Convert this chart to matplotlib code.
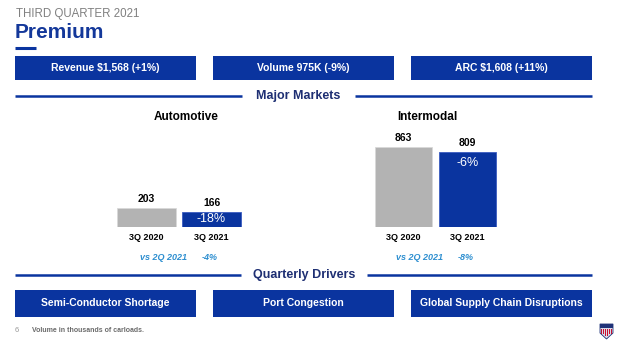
import matplotlib
matplotlib.use("Agg")
import matplotlib.pyplot as plt
from matplotlib.patches import Rectangle, Polygon

plt.rcParams["font.family"] = ["Liberation Sans", "DejaVu Sans"]

UP_BLUE = "#0A349F"
NAVY = "#1E2F73"
GREY_BAR = "#B3B3B3"
VS_BLUE = "#2E8FD0"

W, H = 619, 342

# ── data ───────────────────────────────────────────────────────────────────
quarters = ["3Q 2020", "3Q 2021"]
auto_volume = [203, 166]
auto_change = "-18%"
auto_vs_prev = "-4%"
inter_volume = [863, 809]
inter_change = "-6%"
inter_vs_prev = "-8%"

kpi_labels = ["Revenue $1,568 (+1%)", "Volume 975K (-9%)", "ARC $1,608 (+11%)"]
driver_labels = ["Semi-Conductor Shortage", "Port Congestion",
                 "Global Supply Chain Disruptions"]

fig = plt.figure(figsize=(W / 100, H / 100), dpi=100)
bg = fig.add_axes([0, 0, 1, 1])
bg.set_xlim(0, W)
bg.set_ylim(H, 0)
bg.axis("off")

# header
bg.text(16, 17, "THIRD QUARTER 2021", fontsize=8.3, color="#808080", va="baseline")
bg.text(15, 38, "Premium", fontsize=15, fontweight="bold", color="#14389A", va="baseline")
bg.plot([15, 36], [48, 48], color=UP_BLUE, lw=2.2, solid_capstyle="butt")

box_x = [(15, 196), (213, 394), (411, 592)]


def box_row(labels, y0, y1):
    for (x0, x1), lab in zip(box_x, labels):
        bg.add_patch(Rectangle((x0, y0), x1 - x0, y1 - y0, color=UP_BLUE, lw=0))
        bg.text((x0 + x1) / 2, (y0 + y1) / 2, lab, ha="center", va="center",
                fontsize=7.5, fontweight="bold", color="white")


def section(title, y, gap_l, gap_r):
    bg.plot([15, gap_l], [y, y], color=UP_BLUE, lw=1.8, solid_capstyle="butt")
    bg.plot([gap_r, 592], [y, y], color=UP_BLUE, lw=1.8, solid_capstyle="butt")
    bg.text((gap_l + gap_r) / 2, y, title, ha="center", va="center",
            fontsize=9, fontweight="bold", color=NAVY)


box_row(kpi_labels, 56, 80)
section("Major Markets", 96, 242, 355)
section("Quarterly Drivers", 275, 241, 367)
box_row(driver_labels, 290, 317)

# ── bar panels ─────────────────────────────────────────────────────────────
BASE = 227
PX_PER_UNIT = 0.0925


def panel(left_px, width_px, title, title_x, vals, pct, vs_x, vs_val):
    ax = fig.add_axes([left_px / W, (H - BASE) / H, width_px / W, 1000 * PX_PER_UNIT / H])
    ax.set_xlim(-0.5, 1.5)
    ax.set_ylim(0, 1000)
    bars = ax.bar([0, 1], vals, width=0.9, color=[GREY_BAR, UP_BLUE],
                  edgecolor=["#d9d9d9", "#3a5cc0"], linewidth=0.6)
    for b, v in zip(bars, vals):
        ax.annotate(f"{v}", (b.get_x() + b.get_width() / 2, v), xytext=(0, 6.5),
                    textcoords="offset points", ha="center", va="center",
                    fontsize=7.5, fontweight="bold", color="black")
    b = bars[1]
    if vals[1] * PX_PER_UNIT > 30:
        ax.annotate(pct, (b.get_x() + b.get_width() / 2, vals[1]), xytext=(0, -8),
                    textcoords="offset points", ha="center", va="center",
                    fontsize=9, color="white")
    else:
        ax.text(b.get_x() + b.get_width() / 2, vals[1] / 2, pct, ha="center",
                va="center", fontsize=9, color="white")
    ax.set_xticks([0, 1], quarters, fontsize=6.5, fontweight="bold")
    ax.tick_params(axis="x", length=0, pad=4)
    ax.set_yticks([])
    for s in ax.spines.values():
        s.set_visible(False)
    ax.patch.set_alpha(0)
    bg.text(title_x, 117, title, ha="center", va="center", fontsize=8.5,
            fontweight="bold", color="black")
    bg.text(vs_x, 257, "vs 2Q 2021", ha="left", va="center", fontsize=6.5,
            style="italic", fontweight="bold", color=VS_BLUE)
    bg.text(vs_x + 62, 257, vs_val, ha="left", va="center", fontsize=6.5,
            style="italic", fontweight="bold", color=VS_BLUE)


panel(114, 130, "Automotive", 186, auto_volume, auto_change, 140, auto_vs_prev)
panel(372, 127, "Intermodal", 427, inter_volume, inter_change, 396, inter_vs_prev)

# footnote
bg.text(15, 330, "6", fontsize=5.5, color="#999999", va="center")
bg.text(32, 331, "Volume in thousands of carloads.", fontsize=5, fontweight="bold",
        color="#6b6b6b", va="center")

# small shield logo
shield = Polygon([(600, 324), (613, 324), (613, 333), (606.5, 339), (600, 333)],
                 closed=True, facecolor="#d9d9e8", edgecolor="#1F3278", lw=0.6)
bg.add_patch(shield)
bg.add_patch(Rectangle((600, 324), 13, 4, color="#1F3278", lw=0))
for i, x in enumerate(range(601, 613, 2)):
    bg.add_patch(Rectangle((x, 329), 1, 7 if i in (2, 3) else 5, color="#C8102E", lw=0))

fig.savefig("out.png", dpi=100)
